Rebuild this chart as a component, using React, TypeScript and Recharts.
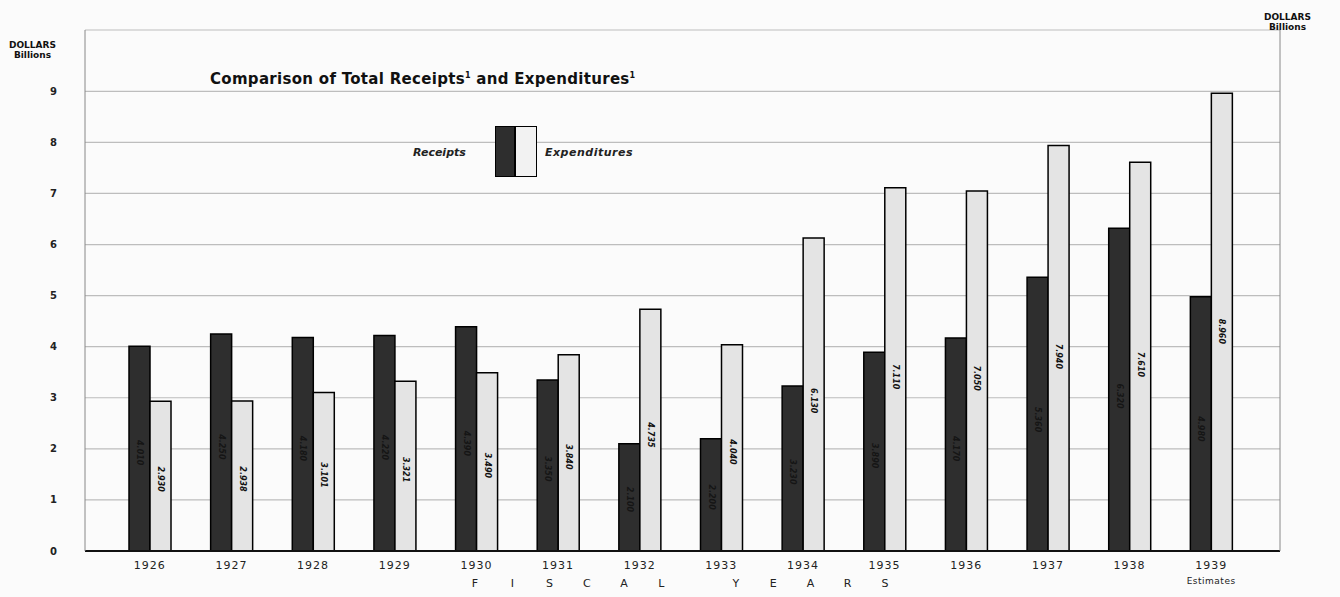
import React from 'react';
import { BarChart, Bar, XAxis, YAxis, CartesianGrid, LabelList } from 'recharts';

const years = ['1926', '1927', '1928', '1929', '1930', '1931', '1932', '1933', '1934', '1935', '1936', '1937', '1938', '1939'];
const receipts = [4.01, 4.25, 4.18, 4.22, 4.39, 3.35, 2.10, 2.20, 3.23, 3.89, 4.17, 5.36, 6.32, 4.98];
const expenditures = [2.930, 2.938, 3.101, 3.321, 3.490, 3.840, 4.735, 4.040, 6.130, 7.110, 7.050, 7.940, 7.610, 8.960];
const yTicks = [0, 1, 2, 3, 4, 5, 6, 7, 8, 9];

const data = years.map((y, i) => ({ year: y, receipts: receipts[i], expenditures: expenditures[i] }));

const FONT = '"DejaVu Sans", "Liberation Sans", sans-serif';

const BarValue = (props: any) => {
  const { x, y, width, height, value, fill } = props;
  const cx = x + width / 2;
  const cy = y + height * 0.52;
  return (
    <text
      x={cx}
      y={cy}
      transform={`rotate(90 ${cx} ${cy})`}
      textAnchor="middle"
      dominantBaseline="central"
      fontSize={8}
      fontWeight="bold"
      fontStyle="italic"
      fontFamily={FONT}
      fill={fill}
    >
      {Number(value).toFixed(3)}
    </text>
  );
};

const XTick = (props: any) => {
  const { x, y, payload } = props;
  return (
    <g>
      <text x={x} y={y + 10} textAnchor="middle" fontSize={11} fontFamily={FONT} fill="#222" letterSpacing={1}>
        {payload.value}
      </text>
      {payload.value === '1939' ? (
        <text x={x} y={y + 25} textAnchor="middle" fontSize={9} fontFamily={FONT} fill="#222" letterSpacing={0.5}>
          Estimates
        </text>
      ) : null}
    </g>
  );
};

export default function App() {
  return (
    <div style={{ position: 'absolute', left: 0, top: 0, width: 1340, height: 597, background: '#fbfbfb', overflow: 'hidden', fontFamily: FONT }}>
      <BarChart
        width={1340}
        height={597}
        data={data}
        margin={{ top: 30, right: 0, bottom: 16, left: 25 }}
        barSize={21}
        barGap={0}
      >
        <CartesianGrid yAxisId="left" horizontal={true} vertical={false} stroke="#bdbdbd" strokeWidth={1.2} />
        <XAxis
          dataKey="year"
          tick={<XTick />}
          tickLine={false}
          axisLine={{ stroke: '#111', strokeWidth: 2 }}
          padding={{ left: 24, right: 28 }}
          height={30}
          interval={0}
        />
        <YAxis
          yAxisId="left"
          domain={[0, 10.2]}
          ticks={yTicks}
          width={60}
          tickLine={false}
          axisLine={{ stroke: '#888', strokeWidth: 1 }}
          tick={{ fontSize: 10, fontWeight: 'bold', fill: '#222', fontFamily: FONT }}
          tickMargin={22}
        />
        <YAxis
          yAxisId="right"
          orientation="right"
          domain={[0, 10.2]}
          ticks={yTicks}
          width={60}
          tickLine={false}
          axisLine={{ stroke: '#888', strokeWidth: 1 }}
          tick={{ fontSize: 10, fontWeight: 'bold', fill: '#222', fontFamily: FONT }}
          tickMargin={22}
        />
        <Bar yAxisId="left" dataKey="receipts" fill="#2e2e2e" stroke="#000" strokeWidth={1.5} isAnimationActive={false}>
          <LabelList dataKey="receipts" content={(p: any) => <BarValue {...p} fill="#151515" />} />
        </Bar>
        <Bar yAxisId="left" dataKey="expenditures" fill="#e4e4e4" stroke="#000" strokeWidth={1.5} isAnimationActive={false}>
          <LabelList dataKey="expenditures" content={(p: any) => <BarValue {...p} fill="#111" />} />
        </Bar>
      </BarChart>

      <div style={{ position: 'absolute', left: 9, top: 40, fontSize: 9, fontWeight: 'bold', lineHeight: '10px', textAlign: 'center', color: '#111' }}>
        DOLLARS<br />Billions
      </div>
      <div style={{ position: 'absolute', left: 1264, top: 12, fontSize: 9, fontWeight: 'bold', lineHeight: '10px', textAlign: 'center', color: '#111' }}>
        DOLLARS<br />Billions
      </div>
      <div style={{ position: 'absolute', left: 210, top: 70, fontSize: 15, fontWeight: 'bold', color: '#111', letterSpacing: 0.3 }}>
        Comparison of Total Receipts<sup style={{ fontSize: 8 }}>1</sup> and Expenditures<sup style={{ fontSize: 8 }}>1</sup>
      </div>
      <div style={{ position: 'absolute', left: 413, top: 146, fontSize: 11, fontStyle: 'italic', fontWeight: 'bold', color: '#222' }}>
        Receipts
      </div>
      <div style={{ position: 'absolute', left: 495, top: 126, width: 20, height: 51, background: '#2e2e2e', border: '1.5px solid #000', boxSizing: 'border-box' }} />
      <div style={{ position: 'absolute', left: 515, top: 126, width: 22, height: 51, background: '#f2f2f2', border: '1.5px solid #000', boxSizing: 'border-box' }} />
      <div style={{ position: 'absolute', left: 545, top: 146, fontSize: 11, fontStyle: 'italic', fontWeight: 'bold', color: '#222', letterSpacing: 0.5 }}>
        Expenditures
      </div>
      <div style={{ position: 'absolute', left: 470, top: 577, width: 420, display: 'flex', justifyContent: 'space-between', fontSize: 11, color: '#222' }}>
        {['F', 'I', 'S', 'C', 'A', 'L', '', 'Y', 'E', 'A', 'R', 'S'].map((c, i) => (
          <span key={i} style={{ width: 10, textAlign: 'center' }}>{c}</span>
        ))}
      </div>
    </div>
  );
}
